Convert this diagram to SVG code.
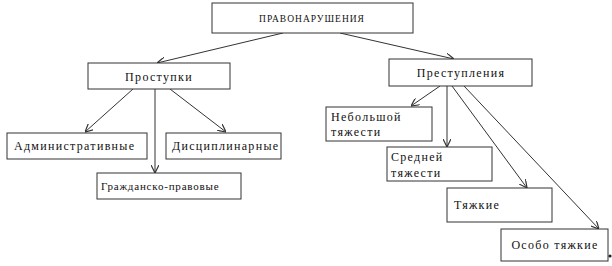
<svg xmlns="http://www.w3.org/2000/svg" width="612" height="266" viewBox="0 0 612 266">
<style>
.box{fill:#fff;stroke:#333;stroke-width:1}
.t{font-size:12px;fill:#111;letter-spacing:1.3px}
.c{text-anchor:middle}
.ln{stroke:#333;stroke-width:1;fill:none;marker-end:url(#ah)}
</style>
<defs>
<marker id="ah" viewBox="0 0 10 10" refX="10" refY="5" markerWidth="8" markerHeight="8" orient="auto" markerUnits="userSpaceOnUse">
<path d="M0,0 L10,5 L0,10" fill="none" stroke="#333" stroke-width="1.5"/>
</marker>
</defs>
<g id="connectors">
<line class="ln" x1="283" y1="33" x2="157" y2="63"/>
<line class="ln" x1="340" y1="33" x2="454" y2="59"/>
<line class="ln" x1="133" y1="89" x2="85" y2="132"/>
<line class="ln" x1="155" y1="89" x2="155" y2="173"/>
<line class="ln" x1="170" y1="89" x2="226" y2="132"/>
<line class="ln" x1="440" y1="86" x2="411" y2="106"/>
<line class="ln" x1="447" y1="86" x2="447" y2="147"/>
<line class="ln" x1="452" y1="86" x2="527" y2="188"/>
<line class="ln" x1="464" y1="86" x2="599" y2="229"/>
</g>
<g font-family="Liberation Serif, Times New Roman, serif">
<g id="n-pravonarusheniya">
<rect class="box" x="212" y="3" width="201" height="30"/>
<text class="t c" x="312" y="22" style="font-size:9.5px;letter-spacing:1px">ПРАВОНАРУШЕНИЯ</text>
</g>
<g id="n-prostupki">
<rect class="box" x="88" y="63" width="142" height="26"/>
<text class="t c" x="159" y="81">Проступки</text>
</g>
<g id="n-admin">
<rect class="box" x="7" y="133" width="140" height="26"/>
<text class="t" x="14" y="150">Административные</text>
</g>
<g id="n-disc">
<rect class="box" x="166" y="133" width="115" height="26"/>
<text class="t" x="172" y="150">Дисциплинарные</text>
</g>
<g id="n-grazh">
<rect class="box" x="97" y="173" width="144" height="26"/>
<text class="t" x="101" y="190" style="font-size:11px;letter-spacing:0.8px">Гражданско-правовые</text>
</g>
<g id="n-prestupleniya">
<rect class="box" x="389" y="59" width="143" height="27"/>
<text class="t c" x="461" y="77">Преступления</text>
</g>
<g id="n-nebolshoy">
<rect class="box" x="326" y="107" width="106" height="34"/>
<text class="t" x="331" y="121">Небольшой</text>
<text class="t" x="331" y="136">тяжести</text>
</g>
<g id="n-sredney">
<rect class="box" x="387" y="147" width="105" height="34"/>
<text class="t" x="391" y="161">Средней</text>
<text class="t" x="391" y="177">тяжести</text>
</g>
<g id="n-tyazhkie">
<rect class="box" x="447" y="188" width="105" height="34"/>
<text class="t" x="454" y="209">Тяжкие</text>
</g>
<g id="n-osobo">
<rect class="box" x="501" y="229" width="107" height="32"/>
<text class="t c" x="555" y="249">Особо тяжкие</text>
</g>
</g>
<circle cx="610" cy="256" r="1.6" fill="#222"/>
</svg>
